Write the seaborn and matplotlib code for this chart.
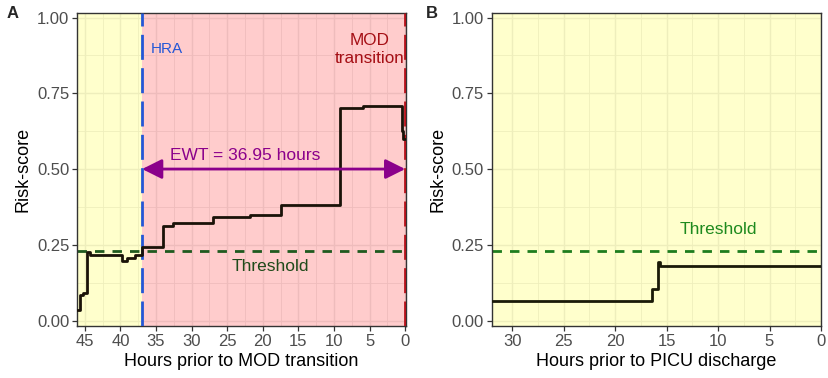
import numpy as np
import pandas as pd
import matplotlib
matplotlib.use("Agg")
import matplotlib.pyplot as plt
from matplotlib.ticker import MultipleLocator, FormatStrFormatter
import seaborn as sns

# Panel A: risk score before MOD transition (hours prior, in time order)
hours_a = [46.05, 45.69, 45.32, 44.66, 44.29, 39.84, 39.14, 37.97, 36.95,
           33.99, 32.58, 26.97, 21.82, 17.46, 9.18, 5.9, 0.51, 0.28, 0.0]
risk_a = [0.035, 0.085, 0.09, 0.225, 0.215, 0.197, 0.205, 0.215, 0.242,
          0.312, 0.321, 0.343, 0.348, 0.381, 0.703, 0.708, 0.625, 0.598, 0.598]

# Panel B: risk score before PICU discharge
hours_b = [32.0, 28.1, 16.4, 15.8, 15.6, 0.0]
risk_b = [0.063, 0.065, 0.104, 0.192, 0.180, 0.180]

threshold = 0.23
hra_hour = 36.95
ewt_label = "EWT = 36.95 hours"

df_a = pd.DataFrame({"hours": hours_a, "risk": risk_a})
df_b = pd.DataFrame({"hours": hours_b, "risk": risk_b})

sns.set_theme(style="whitegrid")
plt.rcParams["font.family"] = ["Liberation Sans", "DejaVu Sans"]

fig = plt.figure(figsize=(8.29, 3.78), dpi=100)
ax_a = fig.add_axes([0.0929, 0.1376, 0.3969, 0.828])
ax_b = fig.add_axes([0.5931, 0.1376, 0.3972, 0.828])


def style_axis(ax, xmax, xmin, xlabel):
    ax.set_xlim(xmax, xmin)
    ax.set_ylim(-0.018, 1.015)
    ax.xaxis.set_major_locator(MultipleLocator(5))
    ax.xaxis.set_minor_locator(MultipleLocator(2.5))
    ax.yaxis.set_major_locator(MultipleLocator(0.25))
    ax.yaxis.set_minor_locator(MultipleLocator(0.125))
    ax.yaxis.set_major_formatter(FormatStrFormatter("%.2f"))
    ax.set_axisbelow(True)
    ax.grid(which="major", color="#EBEBEB", lw=1.0)
    ax.grid(which="minor", color="#EBEBEB", lw=0.6)
    ax.set_facecolor("white")
    for s in ax.spines.values():
        s.set_color("#333333")
        s.set_linewidth(1.0)
    ax.tick_params(axis="both", which="major", length=3.5, width=0.9,
                   color="#333333", labelsize=12, labelcolor="#4D4D4D", pad=2,
                   bottom=True, left=True)
    ax.tick_params(which="minor", length=0)
    ax.set_xlabel(xlabel, fontsize=13, color="black", labelpad=3)
    ax.set_ylabel("Risk-score", fontsize=13, color="black", labelpad=4)


# ---- Panel A ----
style_axis(ax_a, 46.1, -0.12, "Hours prior to MOD transition")
ax_a.axvspan(46.1, hra_hour, color="yellow", alpha=0.2, lw=0, zorder=1)
ax_a.axvspan(hra_hour, -0.2, color="red", alpha=0.2, lw=0, zorder=1)
ax_a.axhline(threshold, color="#1F5A1F", lw=2.0, dashes=(3.4, 2.9), zorder=2)
sns.lineplot(data=df_a, x="hours", y="risk", ax=ax_a, sort=False,
             drawstyle="steps-post", color="#1a1208", lw=2.0, zorder=4)
ax_a.axvline(hra_hour, color="#2457D6", lw=2.0, dashes=(9, 3), zorder=3)
ax_a.axvline(0, color="#B5121B", lw=2.0, dashes=(9, 3), zorder=3)
ax_a.annotate("", xy=(0, 0.5), xytext=(hra_hour, 0.5),
              arrowprops=dict(arrowstyle="<|-|>,head_length=1.0,head_width=0.5",
                              color="#8B008B", lw=2.0, shrinkA=0, shrinkB=0),
              zorder=5)
ax_a.text(22.5, 0.546, ewt_label, color="#8B008B", fontsize=12.5,
          ha="center", va="center")
ax_a.text(35.7, 0.896, "HRA", color="#2457D6", fontsize=11,
          ha="left", va="center")
ax_a.text(5.0, 0.895, "MOD\ntransition", color="#A50F15", fontsize=12.3,
          ha="center", va="center", linespacing=1.2)
ax_a.text(19.0, 0.178, "Threshold", color="#1F4A1A", fontsize=12.5,
          ha="center", va="center")

# ---- Panel B ----
style_axis(ax_b, 32.0, 0.0, "Hours prior to PICU discharge")
ax_b.axvspan(33, -1, color="yellow", alpha=0.2, lw=0, zorder=1)
ax_b.axhline(threshold, color="#1E7D1E", lw=2.0, dashes=(3.4, 2.9), zorder=2)
sns.lineplot(data=df_b, x="hours", y="risk", ax=ax_b, sort=False,
             drawstyle="steps-post", color="#1a1a08", lw=2.0, zorder=4)
ax_b.text(10.0, 0.299, "Threshold", color="#1E8A1E", fontsize=12.5,
          ha="center", va="center")

fig.text(0.015, 0.965, "A", fontsize=12, fontweight="bold", va="center", ha="center")
fig.text(0.521, 0.965, "B", fontsize=12, fontweight="bold", va="center", ha="center")

fig.savefig("out.png", dpi=100)
